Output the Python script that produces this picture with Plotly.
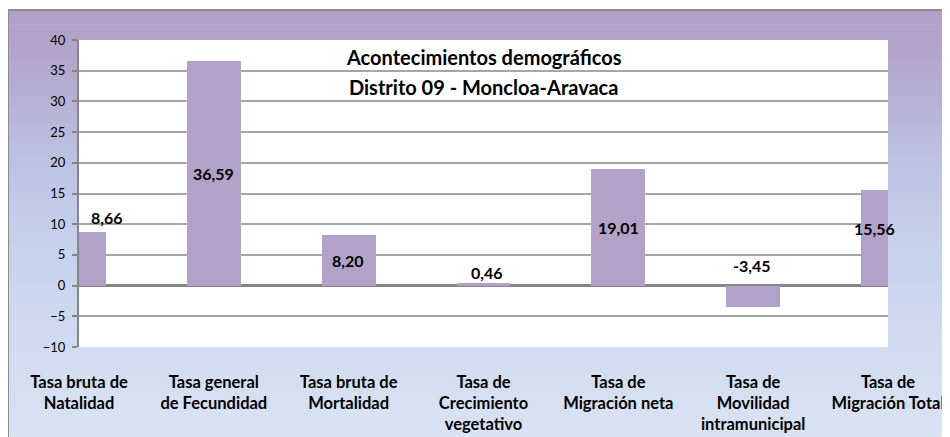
import plotly.graph_objects as go

# ---- data ----
categories = [
    "Tasa bruta de<br>Natalidad",
    "Tasa general<br>de Fecundidad",
    "Tasa bruta de<br>Mortalidad",
    "Tasa de<br>Crecimiento<br>vegetativo",
    "Tasa de<br>Migración neta",
    "Tasa de<br>Movilidad<br>intramunicipal",
    "Tasa de<br>Migración Total",
]
values = [8.66, 36.59, 8.20, 0.46, 19.01, -3.45, 15.56]
value_labels = ["8,66", "36,59", "8,20", "0,46", "19,01", "-3,45", "15,56"]
title_lines = ["Acontecimientos demográficos", "Distrito 09 - Moncloa-Aravaca"]
y_ticks = list(range(-10, 45, 5))

# ---- style ----
label_mode = ["above", "mid", "mid", "above", "mid", "above", "mid"]
label_xshift = [28, 0, -1, 3, 0, -1, -14]
label_yshift = [3, 0, 0, -1, 0, 9, 9]
BAR = "#B3A2C7"
FONT = "Lato"

W, H = 950, 429
L, R, T, B = 71, 70, 32, 90
pw, ph = W - L - R, H - T - B

def px_x(p):
    return (p - L) / pw

def px_y(p):
    return (H - B - p) / ph

xs = list(range(len(categories)))

fig = go.Figure()
fig.add_trace(go.Bar(
    x=xs, y=values, width=0.4, marker=dict(color=BAR, line=dict(width=0)),
    hoverinfo="skip", showlegend=False,
))

# gradient frame
stops = [(0.0, (0xB2, 0xA1, 0xC7)), (0.10, (0xB3, 0xA4, 0xCA)),
         (0.35, (0xBC, 0xC3, 0xE1)), (0.60, (0xC9, 0xD5, 0xEE)),
         (1.0, (0xDA, 0xE3, 0xF3))]

def col(t):
    for (a, ca), (b, cb) in zip(stops[:-1], stops[1:]):
        if a <= t <= b:
            f = (t - a) / (b - a)
            c = [round(ca[i] + (cb[i] - ca[i]) * f) for i in range(3)]
            return "rgb(%d,%d,%d)" % tuple(c)
    return "rgb(%d,%d,%d)" % stops[-1][1]

shapes = []
top_px, bot_px = 2, H
n = 90
for i in range(n):
    p0 = top_px + (bot_px - top_px) * i / n
    p1 = top_px + (bot_px - top_px) * (i + 1) / n + 0.6
    shapes.append(dict(type="rect", xref="paper", yref="paper", layer="below",
                       x0=px_x(0), x1=px_x(W + 2), y0=px_y(min(p1, H + 2)), y1=px_y(p0),
                       fillcolor=col(i / n), line=dict(width=0)))
# frame border
shapes.append(dict(type="rect", xref="paper", yref="paper", layer="below",
                   x0=px_x(0), x1=px_x(W + 5), y0=px_y(H + 5), y1=px_y(2),
                   fillcolor="rgba(0,0,0,0)", line=dict(color="#8C8C8C", width=2)))
# white plot area
shapes.append(dict(type="rect", xref="paper", yref="paper", layer="below",
                   x0=0, x1=1, y0=0, y1=1, fillcolor="white", line=dict(width=0)))

annotations = []
for i, (v, t) in enumerate(zip(values, value_labels)):
    if label_mode[i] == "mid":
        y, ya = v / 2, "middle"
    else:
        y, ya = max(v, 0), "bottom"
    annotations.append(dict(x=i, y=y, xref="x", yref="y", text="<b>%s</b>" % t,
                            showarrow=False, yanchor=ya, xanchor="center",
                            xshift=label_xshift[i], yshift=label_yshift[i],
                            font=dict(family=FONT, size=16, color="#000")))
for k, line in enumerate(title_lines):
    annotations.append(dict(x=0.5, y=px_y(49 + 30 * k), xref="paper", yref="paper",
                            text="<b>%s</b>" % line, showarrow=False,
                            xanchor="center", yanchor="middle",
                            font=dict(family=FONT, size=20, color="#000")))

fig.update_layout(
    width=W, height=H, margin=dict(l=L, r=R, t=T, b=B, autoexpand=False),
    paper_bgcolor="white", plot_bgcolor="white",
    shapes=shapes, annotations=annotations, bargap=0,
    font=dict(family=FONT, color="#000"),
)
fig.update_xaxes(range=[0, 6], tickvals=xs, ticktext=["<b>%s</b>" % c for c in categories],
                 showgrid=False, zeroline=False, showline=False, ticks="",
                 tickfont=dict(family=FONT, size=16.5, color="#000"),
                 ticklabelstandoff=23, fixedrange=True)
fig.update_yaxes(range=[-10, 40], tickvals=y_ticks, showgrid=True,
                 gridcolor="#A6A6A6", gridwidth=1.5,
                 zeroline=True, zerolinecolor="#868686", zerolinewidth=2.5,
                 showline=True, linecolor="#868686", linewidth=2,
                 ticks="outside", ticklen=5, tickcolor="#868686", tickwidth=1.5,
                 tickfont=dict(family=FONT, size=13, color="#000"),
                 ticklabelstandoff=4, fixedrange=True)

fig.write_html("out.html")
